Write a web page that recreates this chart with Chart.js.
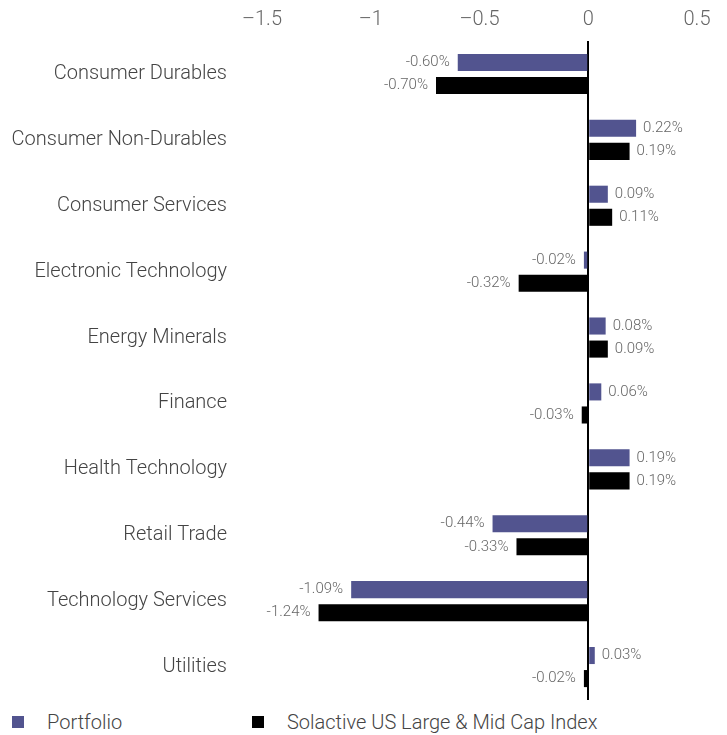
<!DOCTYPE html>
<html>
<head>
<meta charset="utf-8">
<script src="https://cdn.jsdelivr.net/npm/chart.js@4/dist/chart.umd.min.js"></script>
<style>
  body { margin: 0; background: #fff; font-family: Roboto, sans-serif; }
  #wrap { position: relative; width: 727px; height: 735px; overflow: hidden; }
  #grafico { position: absolute; left: 0; top: 0; }
  .legenda { position: absolute; top: 710px; font-size: 20px; font-weight: 300; color: #444; display: flex; align-items: center; }
  .legenda i { display: inline-block; width: 12px; height: 12px; margin-right: 23px; }
</style>
</head>
<body>
<div id="wrap">
  <canvas id="grafico" width="727" height="705"></canvas>
  <div class="legenda" style="left:12px"><i style="background:#52548f"></i>Portfolio</div>
  <div class="legenda" style="left:252px"><i style="background:#000"></i>Solactive US Large &amp; Mid Cap Index</div>
</div>
<script>
const categorias = [
  'Consumer Durables', 'Consumer Non-Durables', 'Consumer Services', 'Electronic Technology',
  'Energy Minerals', 'Finance', 'Health Technology', 'Retail Trade', 'Technology Services', 'Utilities'
];
const portfolio = [-0.60, 0.22, 0.09, -0.02, 0.08, 0.06, 0.19, -0.44, -1.09, 0.03];
const indice = [-0.70, 0.19, 0.11, -0.32, 0.09, -0.03, 0.19, -0.33, -1.24, -0.02];
const ticksX = [-1.5, -1, -0.5, 0, 0.5];

const corPortfolio = '#52548f';
const corIndice = '#000000';

// rótulos de valor ao lado de cada barra
const rotulosBarras = {
  id: 'rotulosBarras',
  afterDatasetsDraw(chart) {
    const ctx = chart.ctx;
    ctx.save();
    ctx.font = '300 15px Roboto, sans-serif';
    ctx.fillStyle = '#666';
    ctx.textBaseline = 'middle';
    chart.data.datasets.forEach((ds, i) => {
      chart.getDatasetMeta(i).data.forEach((bar, j) => {
        const v = ds.data[j];
        const txt = v.toFixed(2) + '%';
        if (v < 0) {
          ctx.textAlign = 'right';
          ctx.fillText(txt, bar.x - 8, bar.y);
        } else {
          ctx.textAlign = 'left';
          ctx.fillText(txt, bar.x + 7, bar.y);
        }
      });
    });
    ctx.restore();
  }
};

new Chart(document.getElementById('grafico'), {
  type: 'bar',
  data: {
    labels: categorias,
    datasets: [
      { label: 'Portfolio', data: portfolio, backgroundColor: corPortfolio },
      { label: 'Solactive US Large & Mid Cap Index', data: indice, backgroundColor: corIndice }
    ]
  },
  options: {
    indexAxis: 'y',
    responsive: false,
    animation: false,
    categoryPercentage: 0.7,
    barPercentage: 0.74,
    layout: { padding: { left: 0, right: 30, top: 0, bottom: 5 } },
    plugins: {
      legend: { display: false },
      tooltip: { enabled: false }
    },
    scales: {
      x: {
        position: 'top',
        min: -1.5,
        max: 0.5,
        afterBuildTicks: (scale) => { scale.ticks = ticksX.map(v => ({ value: v })); },
        afterFit: (scale) => { scale.height = 41; },
        border: { display: false },
        grid: {
          drawTicks: false,
          color: (c) => c.tick && c.tick.value === 0 ? '#000' : 'transparent',
          lineWidth: 2
        },
        ticks: {
          padding: 9,
          color: '#666',
          font: { family: 'Roboto', size: 20, weight: 300 },
          callback: (v) => v < 0 ? '\u2013' + Math.abs(v) : String(v)
        }
      },
      y: {
        afterFit: (scale) => {
          scale.width = 262;
          scale.paddingTop = 0;
          scale.paddingBottom = 0;
        },
        border: { display: false },
        grid: { display: false, drawTicks: false },
        ticks: {
          padding: 35,
          color: '#444',
          font: { family: 'Roboto', size: 20, weight: 300 }
        }
      }
    }
  },
  plugins: [rotulosBarras]
});
</script>
</body>
</html>
